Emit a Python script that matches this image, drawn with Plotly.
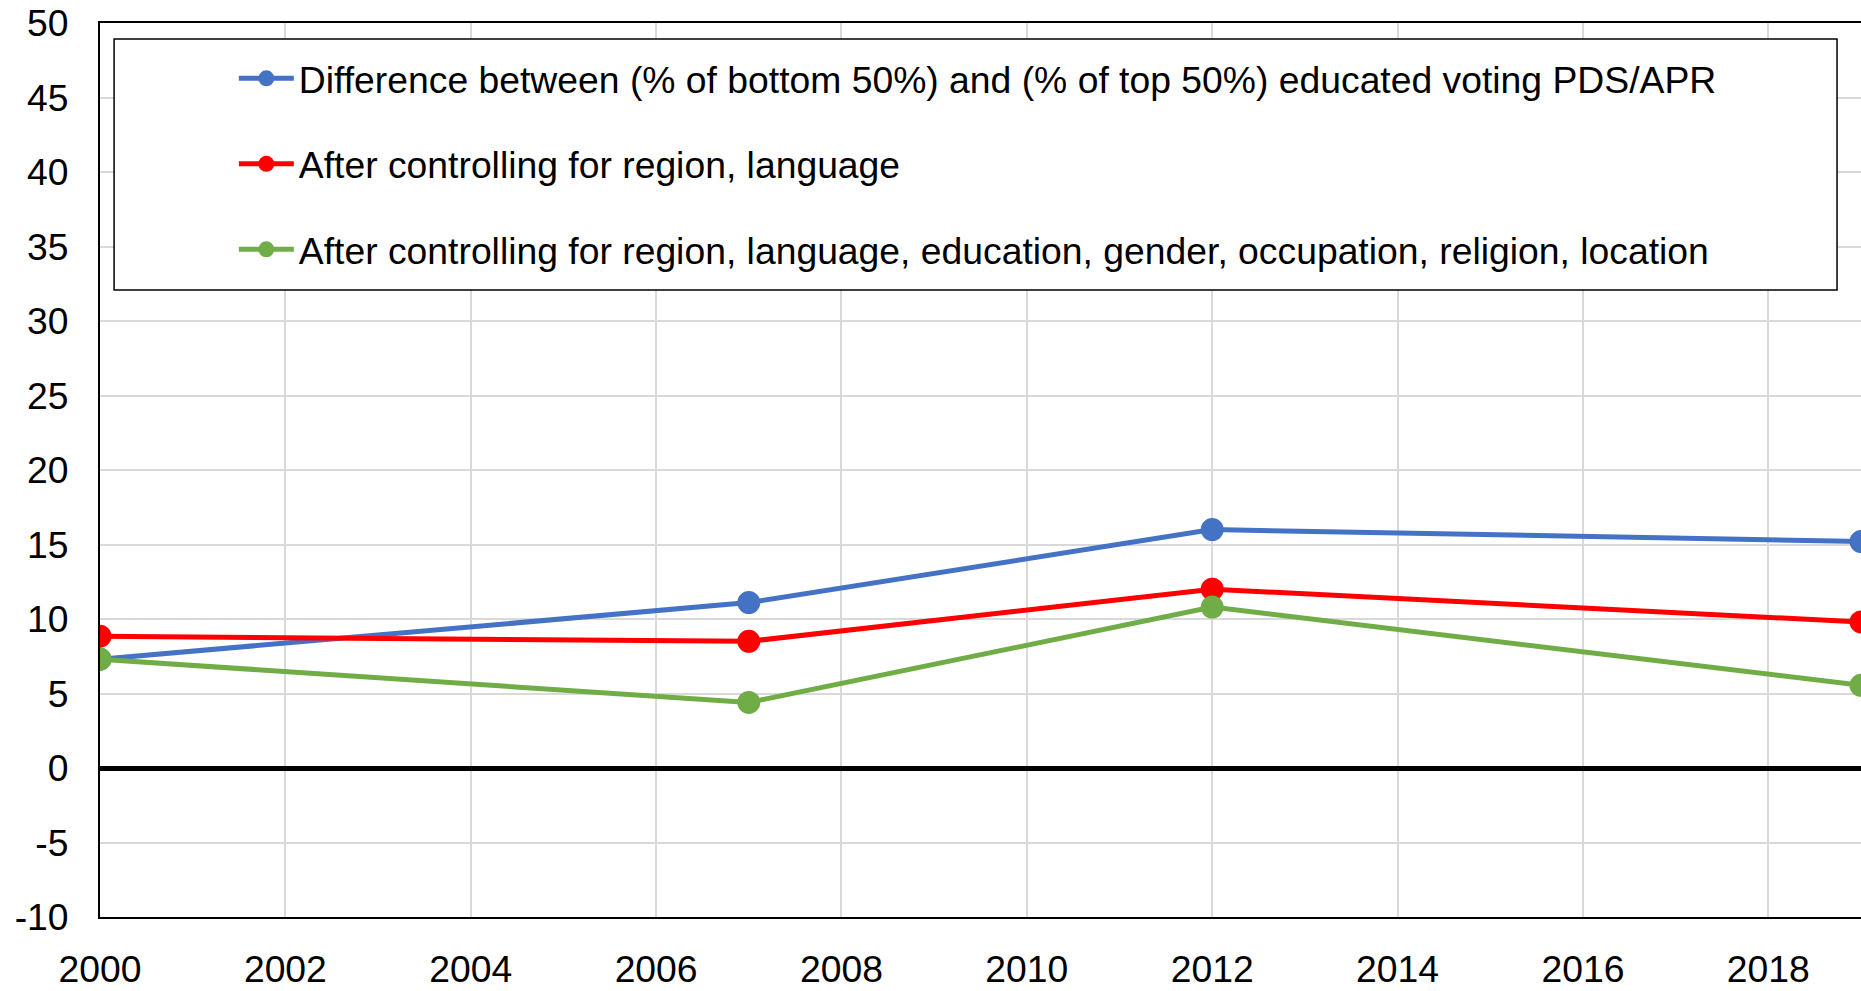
import plotly.graph_objects as go

# Survey years and education-gap series (percentage points)
years = [2000, 2007, 2012, 2019]
raw_gap = [7.3, 11.1, 16.0, 15.2]
ctrl_region_lang = [8.85, 8.5, 12.0, 9.8]
ctrl_full = [7.3, 4.4, 10.8, 5.55]

series_names = [
    "Difference between (% of bottom 50%) and (% of top 50%) educated voting PDS/APR",
    "After controlling for region, language",
    "After controlling for region, language, education, gender, occupation, religion, location",
]
series_values = [raw_gap, ctrl_region_lang, ctrl_full]
series_colors = ["#4472C4", "#FF0000", "#70AD47"]

x_ticks = list(range(2000, 2020, 2))
y_ticks = list(range(-10, 55, 5))

FONT = "Liberation Sans, Arial, sans-serif"
FS = 37.3

fig = go.Figure()
for i, (name, vals, col) in enumerate(zip(series_names, series_values, series_colors)):
    fig.add_trace(go.Scatter(
        x=years, y=vals, name=name, mode="lines+markers",
        line=dict(color=col, width=5),
        marker=dict(color=col, size=23),
        legendgroup=f"g{i}",
    ))

# Framed legend area
fig.add_shape(
    type="rect", xref="paper", yref="paper",
    x0=0.008, x1=0.9864, y0=0.7013, y1=0.9821,
    line=dict(color="black", width=1.5), fillcolor="white", layer="above",
)

fig.update_layout(
    width=1861, height=991,
    margin=dict(l=100, r=0, t=23, b=74),
    paper_bgcolor="white", plot_bgcolor="white",
    font=dict(family=FONT, size=FS, color="black"),
    showlegend=True,
    legend=dict(
        x=0.076, y=0.9725, xanchor="left", yanchor="top",
        bgcolor="rgba(0,0,0,0)", borderwidth=0,
        font=dict(family=FONT, size=FS, color="black"),
        itemwidth=55, tracegroupgap=34, traceorder="grouped",
    ),
    xaxis=dict(
        range=[2000, 2019], tickvals=x_ticks, ticktext=[str(t) for t in x_ticks],
        showgrid=True, gridcolor="#d9d9d9", gridwidth=1.5,
        showline=True, linecolor="black", linewidth=2, mirror=True,
        zeroline=False, ticks="", ticklabelstandoff=18, automargin=False,
        tickfont=dict(family=FONT, size=FS, color="black"),
    ),
    yaxis=dict(
        range=[-10, 50], tickvals=y_ticks, ticktext=[str(t) for t in y_ticks],
        showgrid=True, gridcolor="#d9d9d9", gridwidth=1.5,
        showline=True, linecolor="black", linewidth=2,
        zeroline=True, zerolinecolor="black", zerolinewidth=5,
        ticks="", ticklabelstandoff=22, automargin=False,
        tickfont=dict(family=FONT, size=FS, color="black"),
    ),
)

fig.write_html("out.html")
